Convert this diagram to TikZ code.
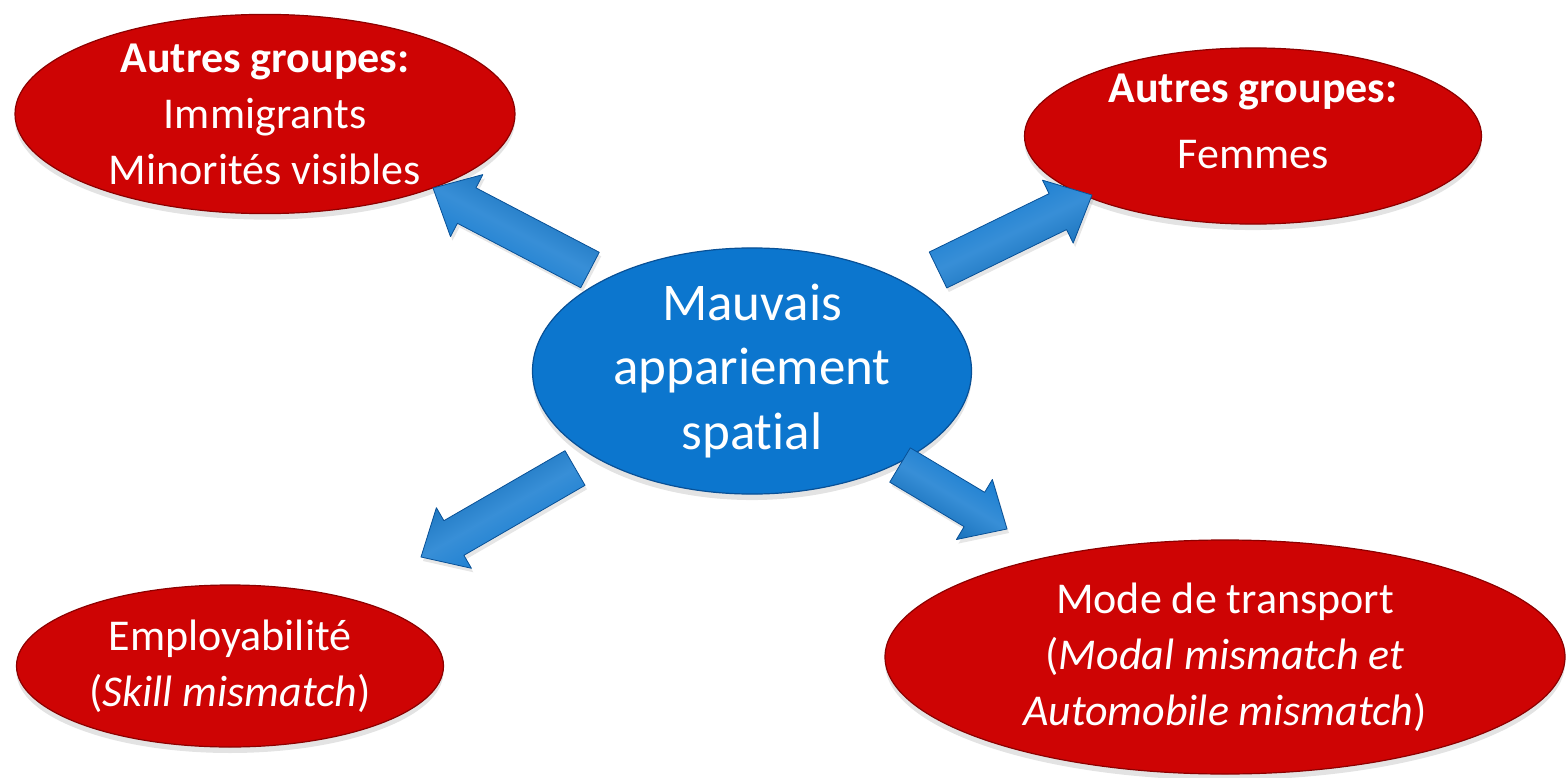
\documentclass[tikz,border=0pt]{standalone}
\usepackage{fontspec}
\setmainfont{Carlito}[Ligatures=CommonOff]
\usetikzlibrary{shapes.geometric,calc,shadows}
\definecolor{redfill}{RGB}{206,4,4}
\definecolor{rededge}{RGB}{140,0,0}
\definecolor{bluefill}{RGB}{12,118,206}
\definecolor{blueedge}{RGB}{8,80,150}
\tikzset{
  redell/.style={ellipse, inner sep=0pt, fill=redfill, draw=rededge, line width=1.2pt,
    text=white, align=center, font=\fontsize{44}{56}\selectfont,
    drop shadow={opacity=0.22, shadow xshift=0pt, shadow yshift=-6pt}},
  blueell/.style={ellipse, inner sep=0pt, fill=bluefill, draw=blueedge, line width=1.2pt,
    text=white, align=center, font=\fontsize{53}{64.5}\selectfont,
    drop shadow={opacity=0.22, shadow xshift=0pt, shadow yshift=-6pt}},
  blockarrow/.style={draw=blueedge, line width=0.8pt, line join=round,
    top color=bluefill, bottom color=bluefill!85!black, middle color=bluefill!82!white,
    drop shadow={opacity=0.2, shadow xshift=2pt, shadow yshift=-4pt}}
}
\newcommand{\blockarr}[3]{%
  \coordinate (h#1) at ($(#2)!38pt!(#1)$);
  \path[blockarrow, shading angle=#3]
    ($(#1)!20pt!90:(#2)$) -- ($(h#1)!20pt!90:(#2)$) -- ($(h#1)!35pt!90:(#2)$) -- (#2)
    -- ($(h#1)!35pt!-90:(#2)$) -- ($(h#1)!20pt!-90:(#2)$) -- ($(#1)!20pt!-90:(#2)$) -- cycle;}
\begin{document}
\begin{tikzpicture}[x=1pt,y=-1pt]
\useasboundingbox (0,0) rectangle (1568,778);

\node[redell, minimum width=500pt, minimum height=192pt] (tl) at (265,114)
  {\textbf{Autres groupes:}\\Immigrants\\Minorités visibles};
\node[redell, minimum width=457pt, minimum height=172pt] (tr) at (1253,136)
  {\textbf{Autres groupes:}\\[10pt]Femmes\rule[-30pt]{0pt}{30pt}};
\node[redell, minimum width=427pt, minimum height=162pt] (bl) at (230,666)
  {Employabilité\\(\textit{Skill mismatch})};
\node[redell, minimum width=680pt, minimum height=234pt] (br) at (1225,657)
  {Mode de transport\\(\textit{Modal mismatch et}\\\textit{Automobile mismatch})};
\node[blueell, minimum width=439pt, minimum height=200pt] (c) at (752,371)
  {Mauvais\\appariement\\spat\kern0pt ial};

\coordinate (tA) at (590,270); \coordinate (pA) at (433,188);
\coordinate (tB) at (938,270); \coordinate (pB) at (1092,195);
\coordinate (tC) at (575,468); \coordinate (pC) at (421,557);
\coordinate (tD) at (900,465); \coordinate (pD) at (1007,529);

\blockarr{tA}{pA}{152}
\blockarr{tB}{pB}{26}
\blockarr{tC}{pC}{210}
\blockarr{tD}{pD}{-31}
\end{tikzpicture}
\end{document}
